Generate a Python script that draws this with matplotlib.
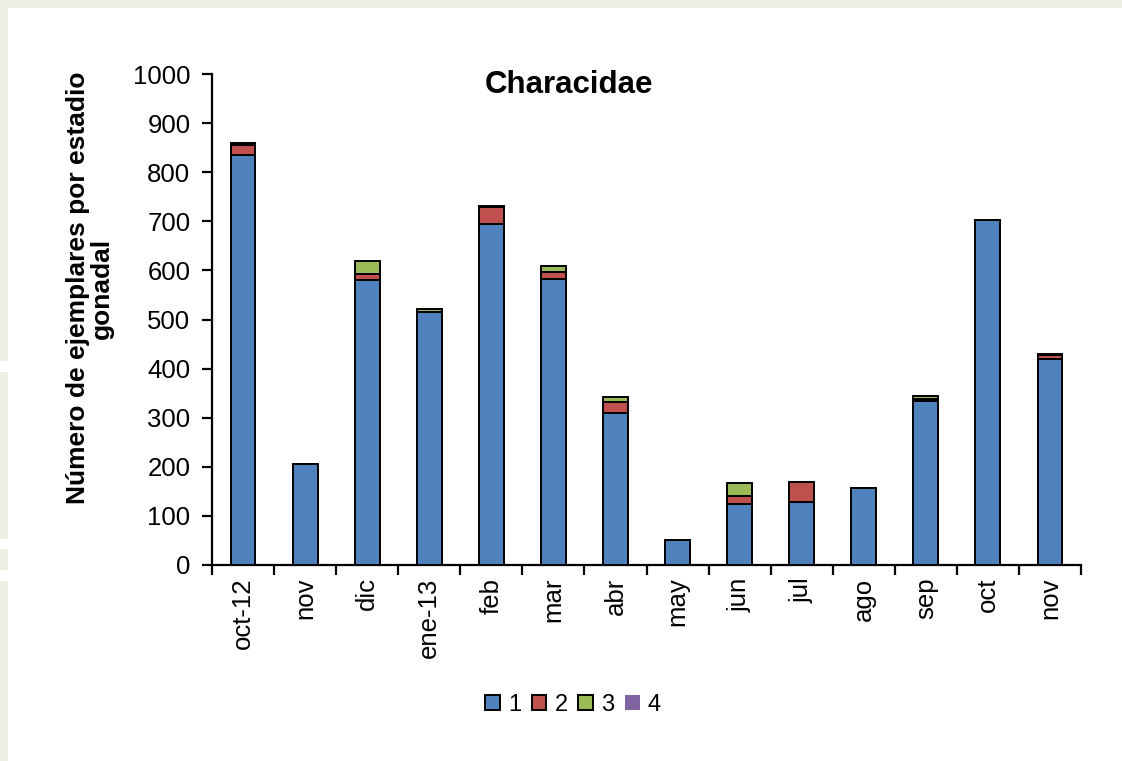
import matplotlib
matplotlib.use("Agg")
import matplotlib.pyplot as plt
import numpy as np
from matplotlib.patches import Patch, Rectangle
from matplotlib.ticker import MultipleLocator, FixedLocator

plt.rcParams['font.family'] = ['Liberation Sans', 'DejaVu Sans']

months = ['oct-12', 'nov', 'dic', 'ene-13', 'feb', 'mar', 'abr',
          'may', 'jun', 'jul', 'ago', 'sep', 'oct', 'nov']
stage1 = [835, 205, 580, 516, 695, 582, 309, 51, 125, 128, 156, 335, 703, 420]
stage2 = [20, 0, 13, 0, 35, 14, 22, 0, 16, 42, 0, 3, 0, 7]
stage3 = [4, 0, 27, 5, 2, 12, 11, 0, 26, 0, 0, 6, 0, 2]
stage4 = [0, 0, 0, 0, 0, 0, 0, 0, 0, 0, 0, 0, 0, 0]
stage_names = ['1', '2', '3', '4']
colors = ['#4F81BD', '#C0504D', '#9BBB59', '#8064A2']

W, H = 1122, 761
fig = plt.figure(figsize=(W / 100, H / 100), dpi=100)
fig.patch.set_facecolor('white')

# light frame strips along the top and left edges
beige = '#EEEEE3'
fig.patches.append(Rectangle((0, 1 - 8 / H), 1, 8 / H, transform=fig.transFigure,
                             facecolor=beige, edgecolor='none', zorder=0))
for y0, y1 in [(8, 361), (372, 539), (549, 570), (581, 761)]:
    fig.patches.append(Rectangle((0, 1 - y1 / H), 8 / W, (y1 - y0) / H,
                                 transform=fig.transFigure,
                                 facecolor=beige, edgecolor='none', zorder=0))

ax = fig.add_axes([212 / W, 1 - 565 / H, (1081 - 212) / W, (565 - 74) / H])
ax.set_facecolor('white')

x = np.arange(len(months))
bottom = np.zeros(len(months))
series = [stage1, stage2, stage3, stage4]
for i, vals in enumerate(series):
    vals = np.array(vals, dtype=float)
    lw = 0 if i == 3 else 1.4
    ax.bar(x, vals, width=0.4, bottom=bottom, color=colors[i],
           edgecolor='black', linewidth=lw, zorder=3)
    bottom += vals

ax.set_xlim(-0.5, len(months) - 0.5)
ax.set_ylim(0, 1000)
ax.yaxis.set_major_locator(MultipleLocator(100))

for s in ['top', 'right']:
    ax.spines[s].set_visible(False)
for s in ['left', 'bottom']:
    ax.spines[s].set_linewidth(1.6)

ax.tick_params(axis='y', direction='out', length=7, width=1.6, pad=8.5,
               labelsize=18.5)
ax.set_xticks(x)
ax.set_xticklabels(months, rotation=90, fontsize=18.5)
ax.tick_params(axis='x', which='major', length=0, pad=9)
ax.xaxis.set_minor_locator(FixedLocator(np.arange(-0.5, len(months), 1.0)))
ax.tick_params(axis='x', which='minor', direction='out', length=7, width=1.6)

fig.text(569 / W, 1 - 85 / H, 'Characidae', ha='center', va='center',
         fontsize=22.5, fontweight='bold')
fig.text(90 / W, 1 - 288 / H, 'Número de ejemplares por estadio\ngonadal',
         ha='center', va='center', rotation=90, fontsize=19,
         fontweight='bold', multialignment='center', linespacing=1.0)

handles = [Patch(facecolor=colors[i], edgecolor='black',
                 linewidth=(0 if i == 3 else 1.4)) for i in range(4)]
fig.legend(handles, stage_names, loc='center', ncol=4,
           bbox_to_anchor=(573 / W, 1 - 705 / H), frameon=False,
           fontsize=17, handlelength=0.62, handleheight=0.62,
           handletextpad=0.35, columnspacing=0.45)

fig.savefig('out.png', dpi=100, facecolor=fig.get_facecolor())
